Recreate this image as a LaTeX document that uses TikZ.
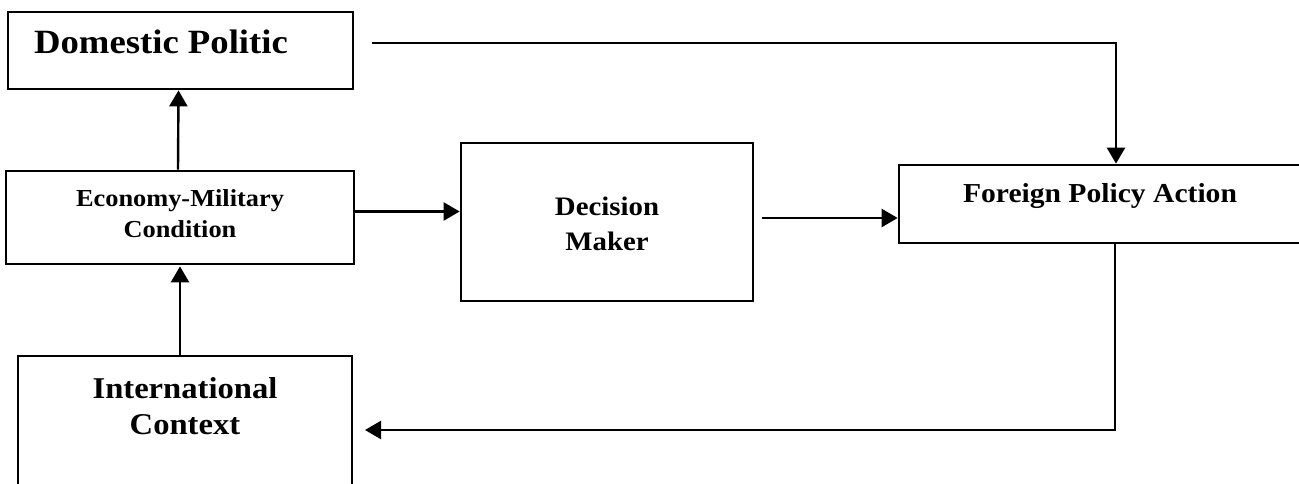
\documentclass[tikz,border=0pt]{standalone}
\usepackage{fontspec}
\setmainfont[FakeStretch=1.08]{Liberation Serif}
\usetikzlibrary{arrows.meta}

\tikzset{
  box/.style={draw=black, line width=2.7pt, rectangle, inner sep=0pt},
  lbl/.style={inner sep=0pt, anchor=base, font=\bfseries},
  arr/.style={draw=black, line width=2.4pt, -{Triangle[length=16pt, width=18pt]}},
  link/.style={draw=black, line width=2.4pt}
}

\begin{document}
\begin{tikzpicture}[x=1pt, y=-1pt]
  \useasboundingbox (0,0) rectangle (1299,484);
  \clip (0,0) rectangle (1299,484);

  % boxes
  \node[box, minimum width=345pt, minimum height=77pt]  (dom)  at (180.5,50.5) {};
  \node[box, minimum width=348pt, minimum height=93pt]  (econ) at (180,217.5) {};
  \node[box, minimum width=334pt, minimum height=150pt] (intl) at (185,431) {};
  \node[box, minimum width=292pt, minimum height=158pt] (dec)  at (607,222) {};
  \node[box, minimum width=411pt, minimum height=78pt]  (for)  at (1104.5,204) {};

  % labels
  \node[lbl, font=\bfseries\fontsize{34}{40}\selectfont] (domt) at (161,54) {Domestic Politic};
  \node[lbl, font=\bfseries\fontsize{24.4}{28}\selectfont] (econt1) at (180,207) {Economy-Military};
  \node[lbl, font=\bfseries\fontsize{24.4}{28}\selectfont] (econt2) at (180,237) {Condition};
  \node[lbl, font=\bfseries\fontsize{26.7}{30}\selectfont] (dect1) at (607,215) {Decision};
  \node[lbl, font=\bfseries\fontsize{26.7}{30}\selectfont] (dect2) at (607,250) {Maker};
  \node[lbl, font=\bfseries\fontsize{27.4}{31}\selectfont] (fort) at (1100,203) {Foreign Policy Action};
  \node[lbl, font=\bfseries\fontsize{30.2}{34}\selectfont] (intlt1) at (185,398) {International};
  \node[lbl, font=\bfseries\fontsize{30.2}{34}\selectfont] (intlt2) at (185,434) {Context};

  % connector end points
  \coordinate (domout) at (372,43);
  \coordinate (fortop) at ([xshift=11.5pt]for.north);
  \coordinate (forbot) at ([xshift=10.5pt]for.south);
  \coordinate (fbend)  at (365,430);

  % connectors
  \draw[arr] ([xshift=-2pt]econ.north) -- ([xshift=-2pt]dom.south);
  \draw[arr] (intl.north -| econ.north) -- ([yshift=-1pt]econ.south);
  \draw[arr] ([yshift=6pt]econ.east) -- ([yshift=6pt]econ.east -| dec.west);
  \draw[arr] ([xshift=8pt, yshift=4pt]dec.east) -- ([yshift=4pt]dec.east -| for.west);
  \draw[arr] (domout) -| (fortop);
  \draw[arr] (forbot) |- (fbend);
\end{tikzpicture}
\end{document}
